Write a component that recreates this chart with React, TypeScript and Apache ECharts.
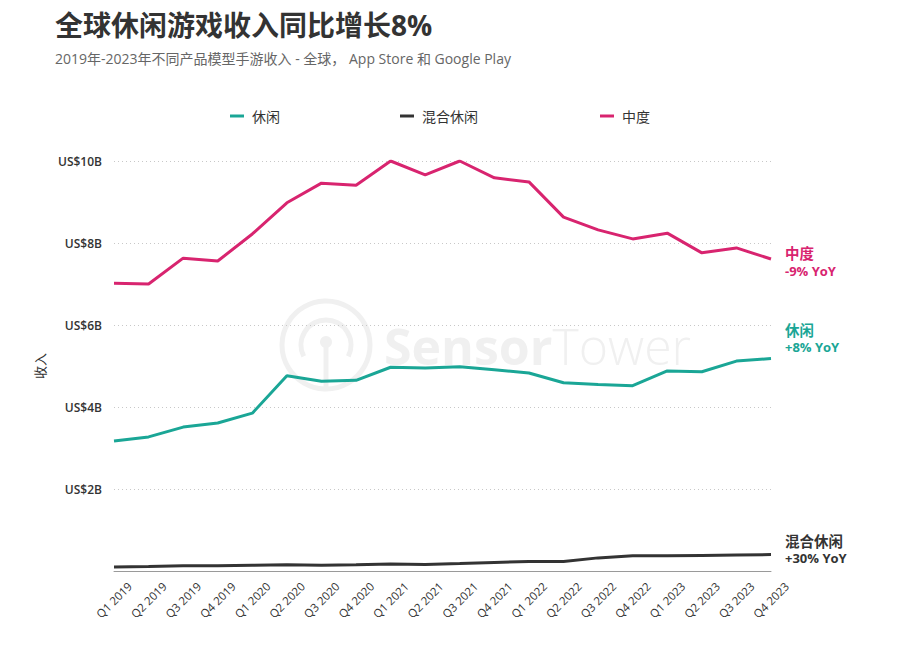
import React, { useEffect, useRef } from "react";
import * as echarts from "echarts";

const quarters = [
  "Q1 2019", "Q2 2019", "Q3 2019", "Q4 2019",
  "Q1 2020", "Q2 2020", "Q3 2020", "Q4 2020",
  "Q1 2021", "Q2 2021", "Q3 2021", "Q4 2021",
  "Q1 2022", "Q2 2022", "Q3 2022", "Q4 2022",
  "Q1 2023", "Q2 2023", "Q3 2023", "Q4 2023",
];

const casual = [3.17, 3.27, 3.51, 3.61, 3.85, 4.76, 4.63, 4.65, 4.97, 4.95, 4.98, 4.91, 4.83, 4.59, 4.55, 4.52, 4.88, 4.86, 5.12, 5.18];
const hybrid = [0.1, 0.11, 0.13, 0.13, 0.14, 0.15, 0.14, 0.15, 0.17, 0.16, 0.18, 0.21, 0.23, 0.23, 0.32, 0.37, 0.37, 0.38, 0.39, 0.4];
const midcore = [7.02, 7.0, 7.63, 7.56, 8.22, 8.98, 9.46, 9.41, 10.0, 9.66, 10.0, 9.59, 9.49, 8.63, 8.32, 8.1, 8.24, 7.76, 7.88, 7.61];

const seriesNames = ["休闲", "混合休闲", "中度"];
const yoyLabels = ["+8% YoY", "+30% YoY", "-9% YoY"];
const colors = ["#1aa696", "#333333", "#d8246f"];
const labelOffsets = [-21, -6, 2.5];

const titleText = "全球休闲游戏收入同比增长8%";
const subtitleText = "2019年-2023年不同产品模型手游收入 - 全球， App Store 和 Google Play";
const yAxisName = "收入";

const FONT = "'Open Sans', 'Noto Sans CJK SC', sans-serif";

export default function App() {
  const ref = useRef<HTMLDivElement>(null);

  useEffect(() => {
    if (!ref.current) return;
    const chart = echarts.init(ref.current, null, { renderer: "svg" });
    const dataSets = [casual, hybrid, midcore];
    const legendLefts = [225, 395, 595];
    const wm = "#f0f0f0";

    chart.setOption({
      animation: false,
      backgroundColor: "#ffffff",
      textStyle: { fontFamily: FONT },
      title: [
        {
          text: titleText,
          left: 50,
          top: 6,
          textStyle: { fontSize: 28, fontWeight: "bold", color: "#333333", fontFamily: FONT },
        },
        {
          text: subtitleText,
          left: 50,
          top: 46,
          textStyle: { fontSize: 14, fontWeight: "normal", color: "#666666", fontFamily: FONT },
        },
      ],
      legend: seriesNames.map((n, i) => ({
        data: [n],
        left: legendLefts[i],
        top: 104,
        icon: "rect",
        itemWidth: 14,
        itemHeight: 3,
        itemGap: 8,
        textStyle: { fontSize: 14, color: "#333333", fontFamily: FONT, padding: [0, 0, 0, 3] },
        selectedMode: false,
      })),
      graphic: [
        {
          type: "group",
          silent: true,
          z: 0,
          children: [
            {
              type: "circle",
              shape: { cx: 326, cy: 345, r: 44 },
              style: { fill: "none", stroke: wm, lineWidth: 5 },
            },
            {
              type: "arc",
              shape: { cx: 326, cy: 345, r: 25, startAngle: Math.PI * 0.85, endAngle: Math.PI * 2.15 },
              style: { fill: "none", stroke: wm, lineWidth: 5 },
            },
            {
              type: "line",
              shape: { x1: 326, y1: 345, x2: 326, y2: 387 },
              style: { stroke: wm, lineWidth: 5 },
            },
            {
              type: "circle",
              shape: { cx: 326, cy: 342, r: 6 },
              style: { fill: wm },
            },
            {
              type: "text",
              x: 384,
              y: 346,
              style: {
                text: "{a|Sensor}{b|Tower}",
                verticalAlign: "middle",
                rich: {
                  a: { fontSize: 50, fontWeight: "bold", fill: wm, fontFamily: FONT },
                  b: { fontSize: 50, fontWeight: 300, fill: wm, fontFamily: FONT },
                },
              },
            },
          ],
        },
      ],
      grid: { left: 114, right: 129, top: 161, bottom: 74, containLabel: false },
      xAxis: {
        type: "category",
        data: quarters,
        boundaryGap: false,
        axisLine: { show: true, lineStyle: { color: "#9a9a9a", width: 1 } },
        axisTick: { show: false },
        axisLabel: {
          rotate: 45,
          align: "center",
          verticalAlign: "middle",
          fontSize: 11.5,
          color: "#333333",
          margin: 29,
          interval: 0,
          fontFamily: FONT,
        },
        splitLine: { show: false },
      },
      yAxis: {
        type: "value",
        min: 0,
        max: 10,
        interval: 2,
        name: yAxisName,
        nameLocation: "middle",
        nameRotate: 90,
        nameGap: 68,
        nameTextStyle: { fontSize: 13, color: "#333333", fontFamily: FONT },
        axisLine: { show: false },
        axisTick: { show: false },
        axisLabel: {
          fontSize: 12,
          fontWeight: 600,
          color: "#333333",
          margin: 12,
          fontFamily: FONT,
          formatter: (v: number) => (v === 0 ? "" : `US$${v}B`),
        },
        splitLine: { show: true, lineStyle: { color: "#c8c8c8", type: [1, 3], width: 1 } },
      },
      series: seriesNames.map((n, i) => ({
        name: n,
        type: "line",
        data: dataSets[i],
        symbol: "none",
        color: colors[i],
        lineStyle: { width: 3, color: colors[i] },
        z: 3,
        endLabel: {
          show: true,
          distance: 14,
          offset: [0, labelOffsets[i]],
          formatter: () => `{a|${n}}\n{b|${yoyLabels[i]}}`,
          rich: {
            a: { fontSize: 14.5, fontWeight: "bold", color: colors[i], lineHeight: 19, fontFamily: FONT },
            b: { fontSize: 13, fontWeight: "bold", color: colors[i], lineHeight: 15, fontFamily: FONT },
          },
        },
      })),
    });

    return () => chart.dispose();
  }, []);

  return <div ref={ref} style={{ width: 900, height: 645, position: "absolute", left: 0, top: 0 }} />;
}
